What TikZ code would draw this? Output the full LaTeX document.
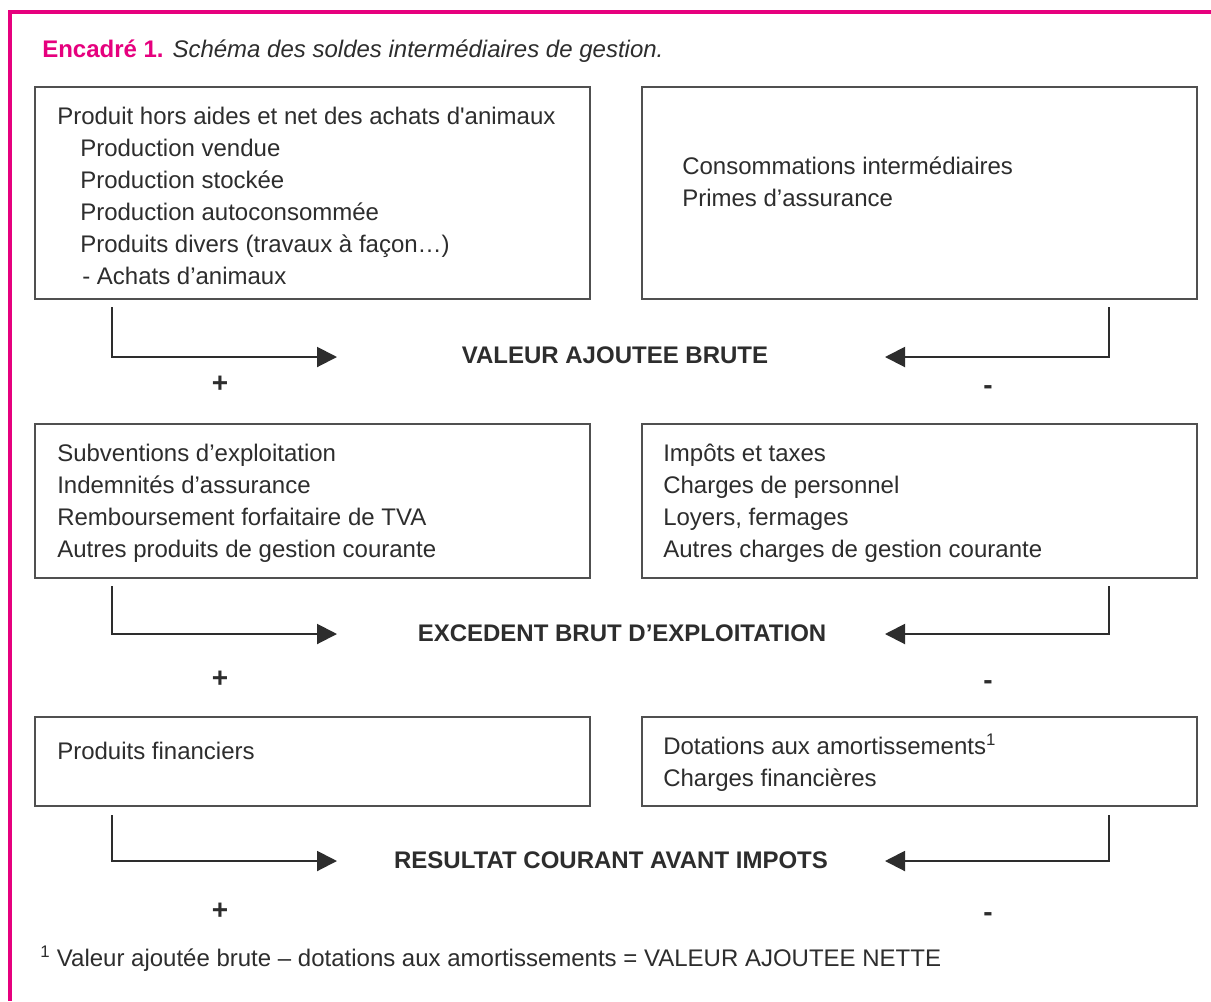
\documentclass[tikz,border=0pt]{standalone}
\usepackage{fontspec}
\setmainfont{Liberation Sans}
\usetikzlibrary{arrows.meta}

\definecolor{encadre}{RGB}{230,0,126}
\definecolor{txtgray}{RGB}{45,45,45}
\definecolor{boxgray}{RGB}{80,80,80}

\tikzset{
  box/.style={draw=boxgray, line width=1.5pt},
  txt/.style={anchor=base west, inner sep=0pt, text=txtgray, font=\fontsize{18}{22}\selectfont},
  solde/.style={anchor=base, inner sep=0pt, text=txtgray, font=\fontsize{18}{22}\selectfont\bfseries},
  signe/.style={anchor=base, inner sep=0pt, text=txtgray, font=\fontsize{21}{22}\selectfont\bfseries},
  flow/.style={draw=txtgray, line width=1.5pt, -{Triangle[length=15pt,width=15pt]}}
}

\begin{document}
\begin{tikzpicture}[x=0.75pt,y=0.75pt,yscale=-1,xscale=1]
    \useasboundingbox (0,0) rectangle (1211,1001);
    \fill[white] (0,0) rectangle (1211,1001);

    %Frame
    \draw[encadre, line width=3pt] (1211,12) -- (9.5,12) -- (9.5,1001);

    % Title
    \node (titre) at (42,57) [anchor=base west, inner sep=0pt, font=\fontsize{18}{22}\selectfont]
      {\textcolor{encadre}{\bfseries Encadré 1.} \textcolor{txtgray}{\itshape Schéma des soldes intermédiaires de gestion.}};

    %Boxes
    \draw[box] (35,87) rectangle (590,299);
    \draw[box] (642,87) rectangle (1197,299);
    \draw[box] (35,424) rectangle (590,578);
    \draw[box] (642,424) rectangle (1197,578);
    \draw[box] (35,717) rectangle (590,806);
    \draw[box] (642,717) rectangle (1197,806);

    % Text Node -- produits
    \node (p1) at (57,124) [txt] {Produit hors aides et net des achats d\textquotesingle animaux};
    \node (p2) at (80,156) [txt] {Production vendue};
    \node (p3) at (80,188) [txt] {Production stockée};
    \node (p4) at (80,220) [txt] {Production autoconsommée};
    \node (p5) at (80,252) [txt] {Produits divers (travaux à façon…)};
    \node (p6) at (82,284) [txt] {- Achats d’animaux};
    % Text Node -- consommations
    \node (c1) at (682,174) [txt] {Consommations intermédiaires};
    \node (c2) at (682,206) [txt] {Primes d’assurance};

    % Text Node -- subventions
    \node (s1) at (57,461) [txt] {Subventions d’exploitation};
    \node (s2) at (57,493) [txt] {Indemnités d’assurance};
    \node (s3) at (57,525) [txt] {Remboursement forfaitaire de TVA};
    \node (s4) at (57,557) [txt] {Autres produits de gestion courante};
    % Text Node -- charges
    \node (h1) at (663,461) [txt] {Impôts et taxes};
    \node (h2) at (663,493) [txt] {Charges de personnel};
    \node (h3) at (663,525) [txt] {Loyers, fermages};
    \node (h4) at (663,557) [txt] {Autres charges de gestion courante};

    % Text Node -- financier
    \node (f1) at (57,759) [txt] {Produits financiers};
    \node (d1) at (663,754) [txt] {Dotations aux amortissements\textsuperscript{1}};
    \node (d2) at (663,786) [txt] {Charges financières};

    % Soldes
    \node (vab) at (615,363) [solde] {VALEUR AJOUTEE BRUTE};
    \node (ebe) at (622,641) [solde] {EXCEDENT BRUT D’EXPLOITATION};
    \node (rcai) at (611,868) [solde] {RESULTAT COURANT AVANT IMPOTS};

    %Arrows
    \coordinate (a1) at (112,307);  \coordinate (a1e) at (337,357);
    \coordinate (b1) at (1109,307); \coordinate (b1e) at (885,357);
    \coordinate (a2) at (112,586);  \coordinate (a2e) at (337,634);
    \coordinate (b2) at (1109,586); \coordinate (b2e) at (885,634);
    \coordinate (a3) at (112,815);  \coordinate (a3e) at (337,861);
    \coordinate (b3) at (1109,815); \coordinate (b3e) at (885,861);
    \draw[flow] (a1) |- (a1e);
    \draw[flow] (b1) |- (b1e);
    \draw[flow] (a2) |- (a2e);
    \draw[flow] (b2) |- (b2e);
    \draw[flow] (a3) |- (a3e);
    \draw[flow] (b3) |- (b3e);

    % Signs
    \node (plus1) at (220,392) [signe] {+};
    \node (moins1) at (988,394) [signe] {-};
    \node (plus2) at (220,687) [signe] {+};
    \node (moins2) at (988,689) [signe] {-};
    \node (plus3) at (220,919) [signe] {+};
    \node (moins3) at (988,921) [signe] {-};

    % Footnote
    \node (note) at (40,966) [txt] {\textsuperscript{1} Valeur ajoutée brute – dotations aux amortissements = VALEUR AJOUTEE NETTE};

\end{tikzpicture}
\end{document}
